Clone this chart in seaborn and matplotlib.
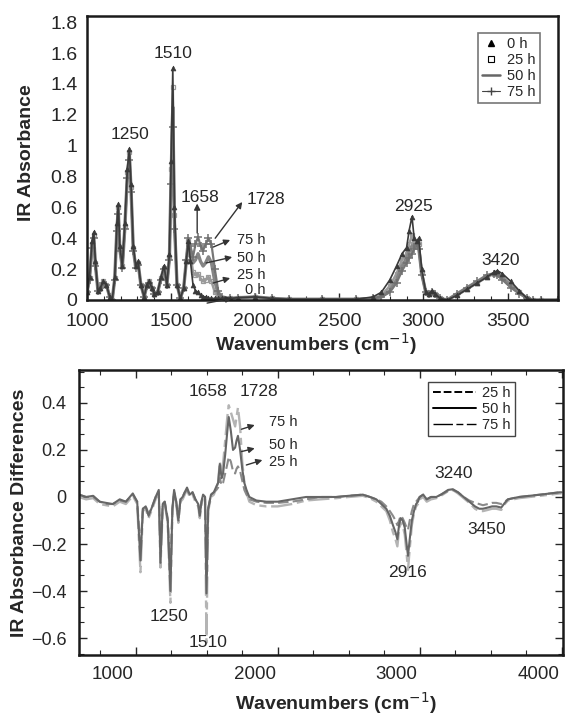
import numpy as np
import pandas as pd
import seaborn as sns
import matplotlib
matplotlib.use("Agg")
import matplotlib.pyplot as plt
from matplotlib.lines import Line2D
from matplotlib.ticker import MultipleLocator, FuncFormatter
from matplotlib.transforms import ScaledTranslation

# ---------------- data: top panel (IR absorbance) ----------------
top_wn = [1000, 1015, 1030, 1040, 1050, 1065, 1080, 1097, 1115, 1135, 1150, 1165, 1178, 1186, 1195,
          1210, 1225, 1240, 1252, 1262, 1275, 1290, 1304, 1320, 1340, 1355, 1370, 1385, 1400, 1420,
          1440, 1458, 1475, 1490, 1500, 1510, 1520, 1535, 1555, 1575, 1590, 1603, 1615, 1630, 1645,
          1660, 1675, 1690, 1705, 1722, 1740, 1760, 1780, 1800, 1850, 1900, 2000, 2100, 2200, 2400,
          2600, 2700, 2750, 2800, 2840, 2873, 2900, 2915, 2932, 2945, 2960, 2972, 2990, 3014, 3035,
          3050, 3070, 3100, 3141, 3200, 3260, 3320, 3380, 3420, 3440, 3470, 3520, 3570, 3617, 3650,
          3700, 3800]
abs_0h = [0.05, 0.15, 0.38, 0.44, 0.25, 0.06, 0.08, 0.12, 0.10, 0.02, 0.00, 0.15, 0.50, 0.62, 0.35,
          0.22, 0.50, 0.85, 0.98, 0.75, 0.35, 0.22, 0.25, 0.10, 0.02, 0.10, 0.12, 0.08, 0.04, 0.05,
          0.15, 0.22, 0.10, 0.30, 0.90, 1.50, 0.60, 0.10, 0.01, 0.08, 0.25, 0.38, 0.25, 0.10, 0.06,
          0.05, 0.03, 0.02, 0.02, 0.01, 0.01, 0.01, 0.01, 0.01, 0.01, 0.015, 0.02, 0.01, 0.005, 0.005,
          0.005, 0.02, 0.05, 0.13, 0.22, 0.30, 0.34, 0.45, 0.54, 0.40, 0.38, 0.40, 0.20, 0.05, 0.04,
          0.06, 0.04, 0.01, 0.00, 0.03, 0.07, 0.11, 0.15, 0.18, 0.19, 0.17, 0.12, 0.06, 0.01, 0.00,
          0.00, 0.00]
abs_25h = [0.05, 0.14, 0.36, 0.42, 0.24, 0.06, 0.08, 0.12, 0.10, 0.02, 0.00, 0.14, 0.48, 0.60, 0.34,
           0.22, 0.48, 0.83, 0.96, 0.73, 0.34, 0.22, 0.24, 0.10, 0.02, 0.10, 0.12, 0.08, 0.04, 0.05,
           0.14, 0.21, 0.10, 0.28, 0.85, 1.38, 0.55, 0.10, 0.01, 0.08, 0.25, 0.38, 0.30, 0.18, 0.16,
           0.17, 0.14, 0.12, 0.13, 0.15, 0.12, 0.05, 0.02, 0.01, 0.01, 0.015, 0.02, 0.01, 0.005, 0.005,
           0.005, 0.01, 0.03, 0.09, 0.17, 0.26, 0.30, 0.36, 0.42, 0.36, 0.37, 0.36, 0.18, 0.05, 0.04,
           0.05, 0.04, 0.01, 0.00, 0.03, 0.07, 0.11, 0.15, 0.17, 0.17, 0.15, 0.10, 0.05, 0.01, 0.00,
           0.00, 0.00]
abs_50h = [0.05, 0.14, 0.35, 0.41, 0.23, 0.06, 0.08, 0.11, 0.10, 0.02, 0.00, 0.14, 0.47, 0.58, 0.33,
           0.21, 0.47, 0.81, 0.94, 0.71, 0.33, 0.21, 0.24, 0.10, 0.02, 0.09, 0.11, 0.08, 0.04, 0.05,
           0.14, 0.21, 0.10, 0.27, 0.80, 1.25, 0.50, 0.10, 0.01, 0.08, 0.25, 0.39, 0.32, 0.24, 0.26,
           0.30, 0.25, 0.22, 0.24, 0.28, 0.24, 0.12, 0.04, 0.02, 0.01, 0.015, 0.02, 0.01, 0.005, 0.005,
           0.005, 0.01, 0.02, 0.06, 0.13, 0.22, 0.27, 0.31, 0.35, 0.34, 0.37, 0.34, 0.17, 0.05, 0.04,
           0.05, 0.04, 0.01, 0.00, 0.04, 0.08, 0.12, 0.16, 0.17, 0.16, 0.14, 0.09, 0.05, 0.01, 0.00,
           0.00, 0.00]
abs_75h = [0.05, 0.13, 0.34, 0.40, 0.22, 0.06, 0.08, 0.11, 0.10, 0.02, 0.00, 0.13, 0.45, 0.56, 0.32,
           0.21, 0.46, 0.79, 0.91, 0.70, 0.32, 0.21, 0.23, 0.10, 0.02, 0.09, 0.11, 0.08, 0.04, 0.05,
           0.13, 0.20, 0.10, 0.26, 0.75, 1.12, 0.46, 0.10, 0.01, 0.08, 0.26, 0.40, 0.35, 0.28, 0.36,
           0.41, 0.35, 0.32, 0.36, 0.40, 0.36, 0.20, 0.06, 0.02, 0.01, 0.015, 0.02, 0.01, 0.005, 0.005,
           0.005, 0.01, 0.02, 0.05, 0.11, 0.19, 0.24, 0.27, 0.30, 0.33, 0.36, 0.33, 0.16, 0.05, 0.04,
           0.05, 0.04, 0.01, 0.00, 0.04, 0.08, 0.12, 0.16, 0.17, 0.16, 0.13, 0.08, 0.04, 0.01, 0.00,
           0.00, 0.00]
top_labels = ["0 h", "25 h", "50 h", "75 h"]

# ---------------- data: bottom panel (differences) ----------------
bot_wn = [600, 650, 700, 746, 790, 838, 887, 930, 979, 1010, 1033, 1050, 1070, 1090, 1110, 1140,
          1162, 1174, 1190, 1204, 1225, 1244, 1258, 1270, 1285, 1300, 1315, 1330, 1345, 1361, 1380,
          1400, 1420, 1440, 1451, 1463, 1474, 1488, 1498, 1510, 1530, 1550, 1568, 1580, 1592, 1605,
          1615, 1630, 1645, 1655, 1670, 1685, 1700, 1710, 1720, 1735, 1750, 1765, 1780, 1800, 1850,
          1920, 2000, 2100, 2200, 2300, 2413, 2500, 2600, 2650, 2695, 2730, 2765, 2790, 2812, 2830,
          2843, 2855, 2866, 2880, 2895, 2908, 2918, 2930, 2945, 2960, 2975, 2988, 3000, 3025, 3050,
          3080, 3117, 3150, 3200, 3234, 3270, 3310, 3350, 3390, 3420, 3446, 3480, 3510, 3540, 3575,
          3600, 3622, 3660, 3700, 3775, 3850, 3920, 3986, 4000]
diff_50h = [0.01, 0.0, 0.005, -0.02, -0.025, -0.03, -0.01, -0.02, 0.015, -0.02, -0.27, -0.05, -0.04,
            -0.08, -0.05, 0.0, 0.03, -0.28, -0.03, -0.02, -0.10, -0.40, -0.05, 0.03, -0.02, -0.10,
            -0.01, 0.0, 0.02, 0.04, 0.01, 0.02, -0.01, -0.03, -0.08, -0.02, 0.01, 0.0, -0.41, -0.05,
            0.01, 0.02, 0.045, 0.06, 0.14, 0.08, 0.10, 0.18, 0.28, 0.34, 0.28, 0.20, 0.21, 0.24, 0.26,
            0.20, 0.12, 0.06, 0.03, 0.0, -0.015, -0.02, -0.02, -0.01, 0.0, 0.0, 0.0, 0.005, 0.01, 0.0,
            -0.01, -0.03, -0.05, -0.08, -0.12, -0.15, -0.18, -0.12, -0.09, -0.10, -0.13, -0.20, -0.25,
            -0.18, -0.10, -0.06, -0.03, -0.02, 0.0, 0.01, -0.01, 0.0, 0.0, 0.01, 0.03, 0.033, 0.02, 0.0,
            -0.02, -0.04, -0.05, -0.05, -0.045, -0.04, -0.04, -0.045, -0.025, -0.01, -0.005, 0.0,
            0.005, 0.01, 0.015, 0.02, 0.02]
diff_25h = [0.01, 0.0, 0.0, -0.02, -0.03, -0.03, -0.015, -0.02, 0.01, -0.02, -0.22, -0.05, -0.04,
            -0.07, -0.05, 0.0, 0.02, -0.22, -0.03, -0.02, -0.09, -0.32, -0.05, 0.02, -0.02, -0.09,
            -0.01, 0.0, 0.02, 0.03, 0.01, 0.02, -0.01, -0.03, -0.07, -0.02, 0.01, 0.0, -0.33, -0.05,
            0.01, 0.02, 0.03, 0.04, 0.08, 0.05, 0.06, 0.10, 0.14, 0.17, 0.15, 0.11, 0.10, 0.12, 0.13,
            0.11, 0.07, 0.03, 0.01, -0.01, -0.02, -0.025, -0.025, -0.02, -0.01, 0.0, 0.0, 0.005, 0.01,
            0.0, -0.01, -0.02, -0.04, -0.06, -0.08, -0.10, -0.12, -0.10, -0.08, -0.09, -0.11, -0.13,
            -0.14, -0.10, -0.06, -0.03, -0.02, -0.01, 0.0, 0.01, -0.01, 0.0, 0.0, 0.01, 0.025, 0.03,
            0.02, 0.0, -0.015, -0.025, -0.03, -0.035, -0.03, -0.025, -0.025, -0.03, -0.02, -0.01,
            -0.005, 0.0, 0.005, 0.01, 0.015, 0.02, 0.02]
diff_75h = [0.0, -0.01, -0.005, -0.03, -0.035, -0.04, -0.02, -0.03, 0.005, -0.03, -0.32, -0.06, -0.05,
            -0.09, -0.06, -0.01, 0.02, -0.30, -0.04, -0.03, -0.11, -0.45, -0.06, 0.02, -0.03, -0.11,
            -0.02, -0.01, 0.01, 0.03, 0.0, 0.01, -0.02, -0.04, -0.09, -0.03, 0.0, -0.01, -0.62, -0.06,
            0.0, 0.01, 0.04, 0.06, 0.15, 0.10, 0.14, 0.24, 0.34, 0.39, 0.36, 0.33, 0.30, 0.34, 0.38,
            0.30, 0.15, 0.06, 0.02, -0.02, -0.035, -0.04, -0.04, -0.03, -0.015, -0.01, -0.005, 0.0,
            0.005, -0.005, -0.02, -0.04, -0.06, -0.10, -0.15, -0.18, -0.21, -0.14, -0.11, -0.12, -0.16,
            -0.24, -0.31, -0.22, -0.12, -0.07, -0.04, -0.03, -0.01, 0.0, -0.02, -0.01, -0.005, 0.005,
            0.025, 0.03, 0.015, -0.005, -0.025, -0.05, -0.06, -0.06, -0.055, -0.05, -0.05, -0.055,
            -0.03, -0.015, -0.01, -0.005, 0.0, 0.005, 0.01, 0.015, 0.015]
bot_labels = ["25 h", "50 h", "75 h"]

# ---------------- style ----------------
sns.set_style("ticks")
plt.rcParams["font.family"] = ["Liberation Sans", "DejaVu Sans"]
plt.rcParams["axes.unicode_minus"] = True

fig = plt.figure(figsize=(5.67, 7.15), dpi=100)
ax1 = fig.add_axes([87 / 567, 1 - 300 / 715, (558 - 87) / 567, (300 - 16) / 715])
ax2 = fig.add_axes([79 / 567, 1 - 655 / 715, (563 - 79) / 567, (655 - 370) / 715])

# ---------------- top panel ----------------
top_df = pd.DataFrame({"wn": top_wn, "0 h": abs_0h, "25 h": abs_25h, "50 h": abs_50h, "75 h": abs_75h})
top_style = {
    "25 h": dict(color="#9a9a9a", marker="s", markersize=3.5, markerfacecolor="none",
                 markeredgecolor="#9a9a9a", markeredgewidth=0.9, linewidth=1.8),
    "50 h": dict(color="#858585", marker=None, linewidth=2.4),
    "75 h": dict(color="#777777", marker="+", markersize=5.5, markeredgecolor="#707070",
                 markeredgewidth=1.1, linewidth=1.6),
    "0 h": dict(color="#3a3a3a", marker="^", markersize=3.5, markeredgecolor="#3a3a3a",
                markerfacecolor="#3a3a3a", markeredgewidth=0.5, linewidth=1.2),
}
for lab in ["25 h", "50 h", "75 h", "0 h"]:
    sns.lineplot(data=top_df, x="wn", y=lab, ax=ax1, estimator=None, sort=False, **top_style[lab])

ax1.set_xlim(1000, 3800)
ax1.set_ylim(0, 1.84)
ax1.xaxis.set_major_locator(MultipleLocator(500))
ax1.xaxis.set_minor_locator(MultipleLocator(100))
ax1.yaxis.set_major_locator(MultipleLocator(0.2))
ax1.yaxis.set_major_formatter(FuncFormatter(lambda v, p: f"{v:.1f}".rstrip("0").rstrip(".") if abs(v) > 1e-9 else "0"))
ax1.tick_params(axis="x", which="major", direction="in", length=5, width=1, labelsize=14, pad=9)
ax1.tick_params(axis="x", which="minor", direction="in", length=3, width=0.8)
ax1.tick_params(axis="y", which="both", length=0, labelsize=14, pad=7)
for s in ax1.spines.values():
    s.set_linewidth(1.8)
    s.set_color("#1a1a1a")
ax1.set_xlabel("Wavenumbers (cm$^{-1}$)", fontsize=14, fontweight="bold")
ax1.set_ylabel("IR Absorbance", fontsize=14, fontweight="bold")
ax1.xaxis.label.set_va("center")
ax1.yaxis.label.set_va("center")
ax1.xaxis.set_label_coords((316 - 87) / 471, (300 - 344) / 284)
ax1.yaxis.set_label_coords((27 - 87) / 471, (300 - 153) / 284)

arw = dict(arrowstyle="-|>", color="#333333", lw=1.0, mutation_scale=9, shrinkA=0, shrinkB=0)
ax1.text(1512, 1.60, "1510", fontsize=12.5, ha="center", va="center")
ax1.text(1256, 1.07, "1250", fontsize=12.5, ha="center", va="center")
ax1.text(1673, 0.667, "1658", fontsize=12.5, ha="center", va="center")
ax1.text(2065, 0.654, "1728", fontsize=12.5, ha="center", va="center")
ax1.text(2940, 0.609, "2925", fontsize=12.5, ha="center", va="center")
ax1.text(3458, 0.259, "3420", fontsize=12.5, ha="center", va="center")
ax1.annotate("", xy=(1655, 0.625), xytext=(1655, 0.434), arrowprops=arw)
ax1.annotate("", xy=(1923, 0.635), xytext=(1762, 0.40), arrowprops=arw)
ax1.text(1893, 0.389, "75 h", fontsize=10.5, va="center", ha="left")
ax1.annotate("", xy=(1851, 0.389), xytext=(1750, 0.343), arrowprops=arw)
ax1.text(1893, 0.272, "50 h", fontsize=10.5, va="center", ha="left")
ax1.annotate("", xy=(1863, 0.278), xytext=(1708, 0.24), arrowprops=arw)
ax1.text(1893, 0.162, "25 h", fontsize=10.5, va="center", ha="left")
ax1.annotate("", xy=(1851, 0.142), xytext=(1750, 0.11), arrowprops=arw)
ax1.text(1940, 0.065, "0 h", fontsize=10.5, va="center", ha="left")
ax1.annotate("", xy=(1861, 0.011), xytext=(1714, -0.02), arrowprops=arw, annotation_clip=False)

h_top = [
    Line2D([], [], color="black", marker="^", linestyle="none", markersize=4),
    Line2D([], [], color="black", marker="s", markerfacecolor="none", linestyle="none", markersize=4,
           markeredgewidth=0.8),
    Line2D([], [], color="#666666", linewidth=1.8),
    Line2D([], [], color="#444444", marker="+", linewidth=0.8, markersize=6, markeredgewidth=1.0),
]
leg1 = ax1.legend(h_top, top_labels, loc="upper right", bbox_to_anchor=(0.962, 0.94),
                  borderaxespad=0, fontsize=10.5, handlelength=1.2, handletextpad=0.5,
                  labelspacing=0.12, borderpad=0.3, numpoints=1, fancybox=False, framealpha=1)
leg1.get_frame().set_edgecolor("#777777")
leg1.get_frame().set_linewidth(1.2)

# ---------------- bottom panel ----------------
bot_df = pd.DataFrame({"wn": bot_wn, "25 h": diff_25h, "50 h": diff_50h, "75 h": diff_75h})
d25 = (0, (5, 2))
d75 = (0, (9, 2, 3, 2))
sns.lineplot(data=bot_df, x="wn", y="75 h", ax=ax2, estimator=None, sort=False,
             color="#b4b4b4", linewidth=1.7, linestyle=d75)
sns.lineplot(data=bot_df, x="wn", y="25 h", ax=ax2, estimator=None, sort=False,
             color="#8a8a8a", linewidth=1.5, linestyle=d25)
sns.lineplot(data=bot_df, x="wn", y="50 h", ax=ax2, estimator=None, sort=False,
             color="#666666", linewidth=1.5)

ax2.set_xlim(600, 4010)
ax2.set_ylim(-0.672, 0.54)
ax2.xaxis.set_major_locator(MultipleLocator(1000))
ax2.xaxis.set_minor_locator(MultipleLocator(250))
ax2.yaxis.set_major_locator(MultipleLocator(0.2))
ax2.yaxis.set_minor_locator(MultipleLocator(0.2 / 3))
ax2.yaxis.set_major_formatter(FuncFormatter(
    lambda v, p: "0" if abs(v) < 1e-9 else ("\u2212" if v < 0 else "") + f"{abs(v):.1f}"))
ax2.tick_params(which="both", direction="in", top=True, right=True)
ax2.tick_params(which="major", length=6, width=1, labelsize=13.5)
ax2.tick_params(which="minor", length=3.5, width=0.8)
ax2.tick_params(axis="x", which="major", pad=8)
ax2.tick_params(axis="y", which="major", pad=9, labelsize=13)
for s in ax2.spines.values():
    s.set_linewidth(1.8)
    s.set_color("#1a1a1a")
ax2.set_xlabel("Wavenumbers (cm$^{-1}$)", fontsize=14, fontweight="bold")
ax2.set_ylabel("IR Absorbance Differences", fontsize=14, fontweight="bold")
ax2.xaxis.label.set_va("center")
ax2.yaxis.label.set_va("center")
ax2.xaxis.set_label_coords((336 - 79) / 484, (655 - 703) / 285)
ax2.yaxis.set_label_coords((20 - 79) / 484, (655 - 513) / 285)

shift = ScaledTranslation(-0.23, 0, fig.dpi_scale_trans)
for lbl in ax2.get_xticklabels():
    lbl.set_transform(lbl.get_transform() + shift)

ax2.text(1512, 0.447, "1658", fontsize=12.5, ha="center", va="center")
ax2.text(1865, 0.447, "1728", fontsize=12.5, ha="center", va="center")
ax2.text(1937, 0.32, "75 h", fontsize=10.5, ha="left", va="center")
ax2.annotate("", xy=(1838, 0.306), xytext=(1744, 0.288), arrowprops=arw)
ax2.text(1937, 0.221, "50 h", fontsize=10.5, ha="left", va="center")
ax2.annotate("", xy=(1838, 0.207), xytext=(1744, 0.193), arrowprops=arw)
ax2.text(1937, 0.150, "25 h", fontsize=10.5, ha="left", va="center")
ax2.annotate("", xy=(1892, 0.157), xytext=(1779, 0.136), arrowprops=arw)
ax2.text(1232, -0.51, "1250", fontsize=12.5, ha="center", va="center")
ax2.text(1507, -0.62, "1510", fontsize=12.5, ha="center", va="center")
ax2.text(3239, 0.098, "3240", fontsize=12.5, ha="center", va="center")
ax2.text(3470, -0.14, "3450", fontsize=12.5, ha="center", va="center")
ax2.text(2911, -0.323, "2916", fontsize=12.5, ha="center", va="center")

h_bot = [
    Line2D([], [], color="black", linewidth=1.4, linestyle=(0, (4, 1.5))),
    Line2D([], [], color="black", linewidth=1.4),
    Line2D([], [], color="black", linewidth=1.0, linestyle=(0, (14, 2.5, 5, 2.5))),
]
leg2 = ax2.legend(h_bot, bot_labels, loc="upper right", bbox_to_anchor=(0.901, 0.958),
                  borderaxespad=0, fontsize=10.5, handlelength=3.0, handletextpad=0.4,
                  labelspacing=0.12, borderpad=0.3, fancybox=False, framealpha=1)
leg2.get_frame().set_edgecolor("#444444")
leg2.get_frame().set_linewidth(1.0)

fig.savefig("out.png", dpi=100)
